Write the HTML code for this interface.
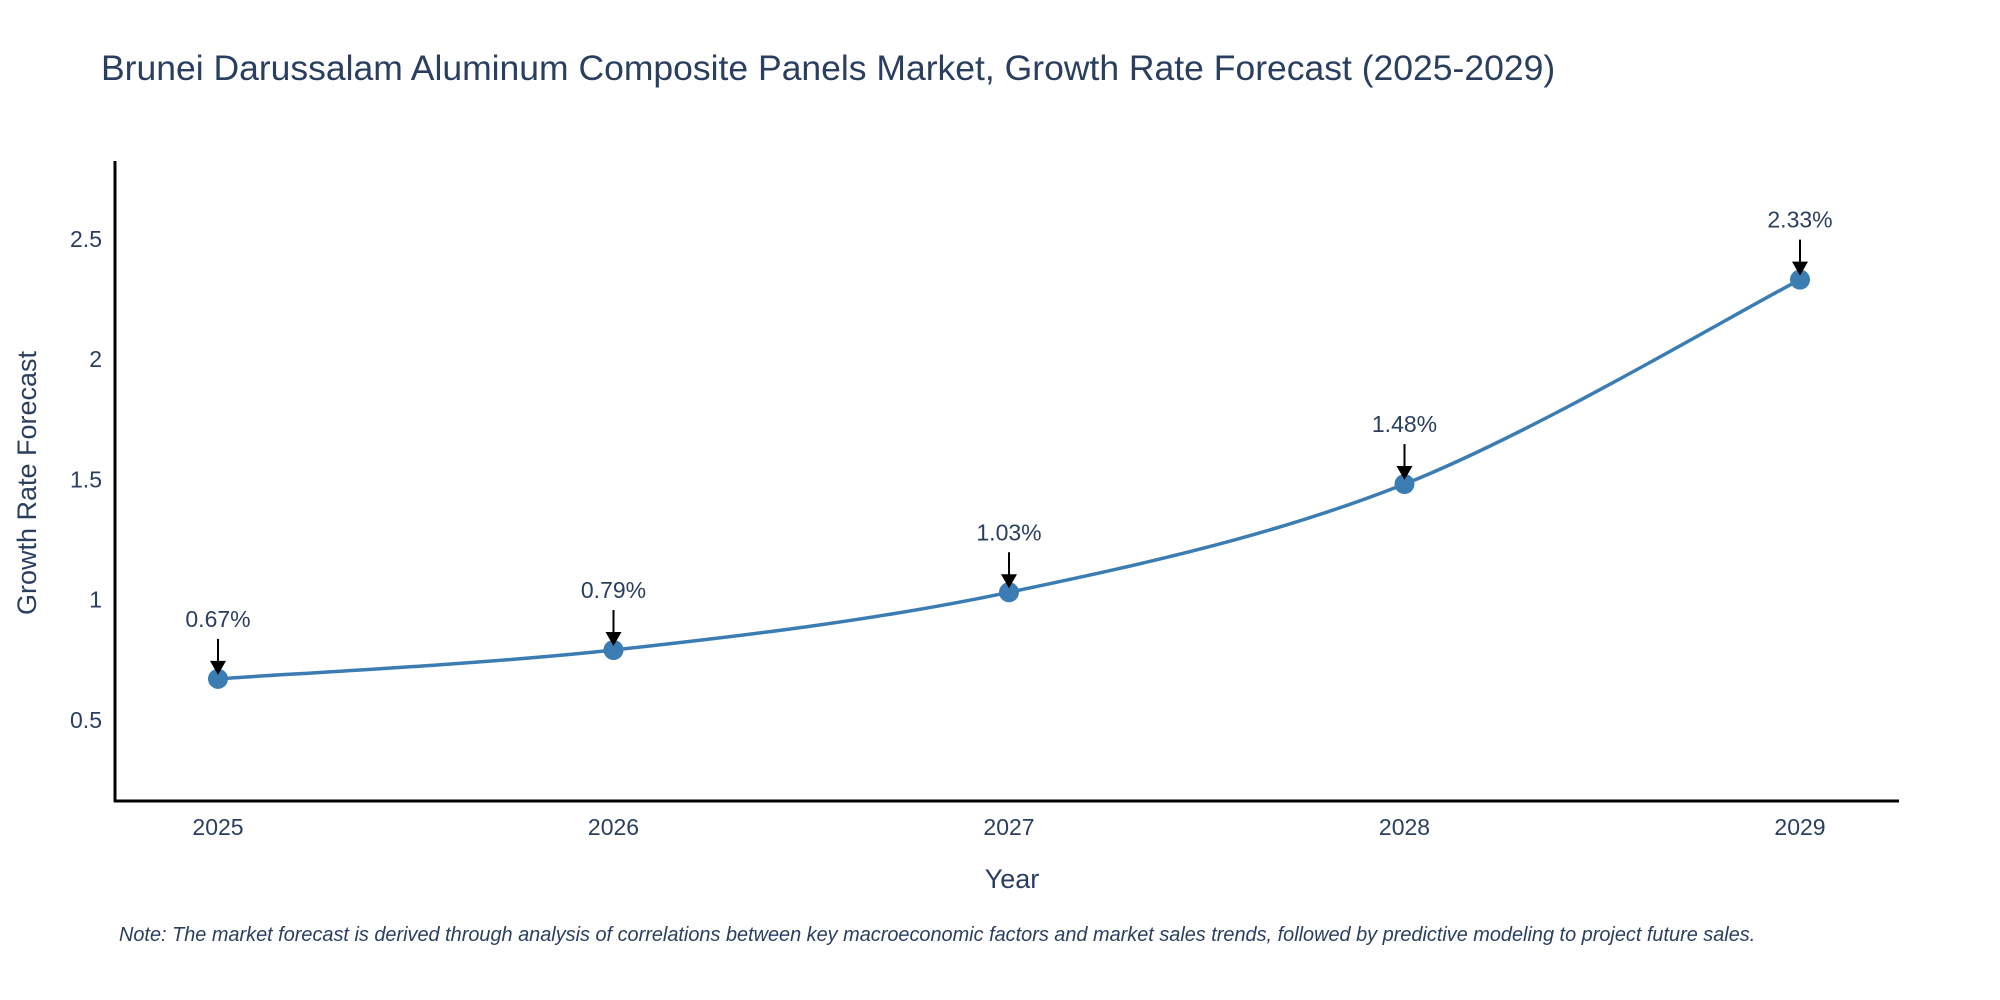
<!DOCTYPE html>
<html><head><meta charset="utf-8"><style>
html,body{margin:0;padding:0;background:#fff;}
svg{display:block;font-family:"Liberation Sans",sans-serif;}
</style></head><body>
<svg id="chart" width="2000" height="1000" viewBox="0 0 2000 1000">
<text x="101" y="80" font-size="35.5" fill="#2a3f5f">Brunei Darussalam Aluminum Composite Panels Market, Growth Rate Forecast (2025-2029)</text>
<g id="yticks"></g>
<g id="xticks"></g>
<line x1="115" y1="161" x2="115" y2="802" stroke="#000" stroke-width="3"/>
<line x1="114" y1="801" x2="1899" y2="801" stroke="#000" stroke-width="3"/>
<text transform="translate(36,483) rotate(-90)" text-anchor="middle" font-size="27" fill="#2a3f5f">Growth Rate Forecast</text>
<text x="1012" y="888" text-anchor="middle" font-size="27" fill="#2a3f5f">Year</text>
<path id="line" fill="none" stroke="#3b7db3" stroke-width="3.5"/>
<g id="marks"></g>
<g id="annots"></g>
<text x="119" y="941" font-size="19.9" font-style="italic" fill="#2a3f5f">Note: The market forecast is derived through analysis of correlations between key macroeconomic factors and market sales trends, followed by predictive modeling to project future sales.</text>
</svg>
<script>
const years = [2025, 2026, 2027, 2028, 2029];
const values = [0.67, 0.79, 1.03, 1.48, 2.33];
const labels = ["0.67%", "0.79%", "1.03%", "1.48%", "2.33%"];
const yTicks = [0.5, 1, 1.5, 2, 2.5];
const yTickLabels = ["0.5", "1", "1.5", "2", "2.5"];

const NS = "http://www.w3.org/2000/svg";
function xs(v){ return 218 + (v - 2025) * (1800 - 218) / 4; }
function ys(v){ return 840 - v * 240.5; }
function mk(tag, attrs, parent){
  const e = document.createElementNS(NS, tag);
  for (const k in attrs) e.setAttribute(k, attrs[k]);
  parent.appendChild(e); return e;
}
const yg = document.getElementById('yticks');
yTicks.forEach((t,i)=>{
  const el = mk('text',{x:102,y:ys(t)+8,'text-anchor':'end','font-size':23,fill:'#2a3f5f'},yg);
  
  
  el.textContent = yTickLabels[i];
});
const xg = document.getElementById('xticks');
years.forEach(y=>{
  const el = mk('text',{x:xs(y),y:835,'text-anchor':'middle','font-size':23,fill:'#2a3f5f'},xg);
  
  
  el.textContent = String(y);
});
const pts = years.map((y,i)=>[xs(y), ys(values[i])]);
let d = `M${pts[0][0]},${pts[0][1]}`;
const tension = 0.5;
for (let i=0;i<pts.length-1;i++){
  const p0 = pts[i-1]||pts[i], p1=pts[i], p2=pts[i+1], p3=pts[i+2]||pts[i+1];
  const c1=[p1[0]+(p2[0]-p0[0])*tension/3, p1[1]+(p2[1]-p0[1])*tension/3];
  const c2=[p2[0]-(p3[0]-p1[0])*tension/3, p2[1]-(p3[1]-p1[1])*tension/3];
  d += ` C${c1[0]},${c1[1]} ${c2[0]},${c2[1]} ${p2[0]},${p2[1]}`;
}
document.getElementById('line').setAttribute('d', d);
const mg = document.getElementById('marks');
const ag = document.getElementById('annots');
pts.forEach((p,i)=>{
  const c = mk('circle',{cx:p[0],cy:p[1],r:10,fill:'#3b7db3'},mg);
  
  
  const ln = mk('line',{x1:p[0],y1:p[1]-40,x2:p[0],y2:p[1]-16,stroke:'#000','stroke-width':2},ag);
  
  
  const hd = mk('polygon',{points:`${p[0]-8},${p[1]-18} ${p[0]+8},${p[1]-18} ${p[0]},${p[1]-4}`,fill:'#000'},ag);
  
  
  const t = mk('text',{x:p[0],y:p[1]-52,'text-anchor':'middle','font-size':23,fill:'#2a3f5f'},ag);
  
  
  t.textContent = labels[i];
});
</script>
</body></html>
